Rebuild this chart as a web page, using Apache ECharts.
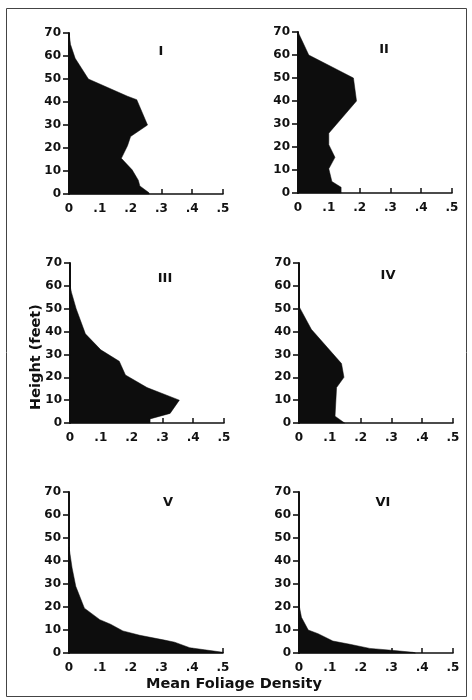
<!DOCTYPE html>
<html><head><meta charset="utf-8">
<script src="https://cdn.jsdelivr.net/npm/echarts@6/dist/echarts.min.js"></script>
<style>html,body{margin:0;padding:0;background:#fff}#c{width:472px;height:700px}</style>
</head><body><div id="c"></div><script>
// Tick values
const densityTicks = [0, 0.1, 0.2, 0.3, 0.4, 0.5];
const heightTicks = [0, 10, 20, 30, 40, 50, 60, 70];
const panelNames = ['I', 'II', 'III', 'IV', 'V', 'VI'];
// Profiles: [mean foliage density, height (feet)], from top of crown down to ground
const profileI = [[0,70],[0.005,65],[0.02,59],[0.063,50],[0.19,42.5],[0.22,41],[0.255,30],[0.2,25],[0.19,21],[0.17,15.5],[0.205,10.5],[0.225,6],[0.23,3.5],[0.26,0.5],[0.26,0]];
const profileII = [[0,70],[0.035,60],[0.18,50],[0.19,40],[0.1,26],[0.1,21],[0.12,15.5],[0.1,10.5],[0.11,5],[0.14,2.5],[0.14,0]];
const profileIII = [[0,70],[0,60],[0.005,57],[0.02,50],[0.05,39],[0.1,32],[0.16,27],[0.18,21],[0.25,15.5],[0.355,10],[0.325,4.2],[0.26,1.8],[0.26,0]];
const profileIV = [[0,70],[0,51],[0.04,41],[0.138,26],[0.146,20],[0.122,15.5],[0.117,3],[0.148,0]];
const profileV = [[0,46],[0.01,37],[0.022,29],[0.05,19.5],[0.1,14.5],[0.135,12.5],[0.175,9.6],[0.23,7.7],[0.31,5.6],[0.343,4.7],[0.392,2.3],[0.44,1.4],[0.5,0.3],[0.5,0]];
const profileVI = [[0,21],[0.008,15.5],[0.03,10],[0.062,8.4],[0.11,5.2],[0.165,3.8],[0.23,2],[0.3,1.2],[0.37,0.3],[0.378,0]];
const profiles = [profileI, profileII, profileIII, profileIV, profileV, profileVI];

const FONT = 'DejaVu Sans';
const grids = [
  {left: 69, top: 33, width: 154, height: 161},
  {left: 298, top: 32, width: 154, height: 161},
  {left: 70, top: 263, width: 154, height: 160},
  {left: 299, top: 263, width: 154, height: 160},
  {left: 69, top: 492, width: 154, height: 161},
  {left: 299, top: 492, width: 154, height: 161}
];
const labelPos = [[161,52],[384,50],[165,279],[388,276],[168,503],[383,503]];

const xAxes = [], yAxes = [], series = [];
grids.forEach((g, i) => {
  xAxes.push({
    gridIndex: i, type: 'value', min: densityTicks[0], max: densityTicks[densityTicks.length-1], interval: 0.1,
    splitLine: {show: false},
    axisLine: {show: true, lineStyle: {color: '#111', width: 1.6}},
    axisTick: {show: true, inside: true, length: 5, lineStyle: {color: '#111', width: 1.5}},
    axisLabel: {color: '#111', fontFamily: FONT, fontWeight: 'bold', fontSize: 12, margin: 9,
      formatter: v => v === 0 ? '0' : '.' + Math.round(v * 10)}
  });
  yAxes.push({
    gridIndex: i, type: 'value', min: heightTicks[0], max: heightTicks[heightTicks.length-1], interval: 10,
    splitLine: {show: false},
    axisLine: {show: true, lineStyle: {color: '#111', width: 2}},
    axisTick: {show: true, length: 6, lineStyle: {color: '#111', width: 1.6}},
    axisLabel: {color: '#111', fontFamily: FONT, fontWeight: 'bold', fontSize: 12, margin: 8}
  });
  const pts = profiles[i];
  series.push({
    type: 'custom', xAxisIndex: i, yAxisIndex: i, data: pts, silent: true,
    encode: {x: 0, y: 1},
    renderItem: function (params, api) {
      if (params.dataIndex !== 0) return null;
      const poly = pts.map(p => api.coord(p));
      poly.push(api.coord([0, 0]));
      return {type: 'polygon', shape: {points: poly}, style: {fill: '#0d0d0d', stroke: '#0d0d0d', lineWidth: 0.5}};
    }
  });
});

const graphics = [
  {type: 'rect', shape: {x: 6.5, y: 8.5, width: 460, height: 688}, style: {fill: 'none', stroke: '#444', lineWidth: 1}, silent: true},
  {type: 'text', x: 36, y: 357, rotation: Math.PI/2, style: {text: 'Height (feet)', fill: '#111', font: 'bold 14.5px "DejaVu Sans"', textAlign: 'center', textVerticalAlign: 'middle'}},
  {type: 'text', x: 234, y: 684, style: {text: 'Mean Foliage Density', fill: '#111', font: 'bold 14.5px "DejaVu Sans"', textAlign: 'center', textVerticalAlign: 'middle'}}
];
panelNames.forEach((n, i) => {
  graphics.push({type: 'text', x: labelPos[i][0], y: labelPos[i][1], style: {text: n, fill: '#111', font: 'bold 13px "DejaVu Sans"', textAlign: 'center', textVerticalAlign: 'middle'}});
});

const chart = echarts.init(document.getElementById('c'), null, {renderer: 'canvas'});
chart.setOption({
  animation: false,
  backgroundColor: '#fff',
  grid: grids,
  xAxis: xAxes,
  yAxis: yAxes,
  series: series,
  graphic: graphics
});
</script></body></html>
